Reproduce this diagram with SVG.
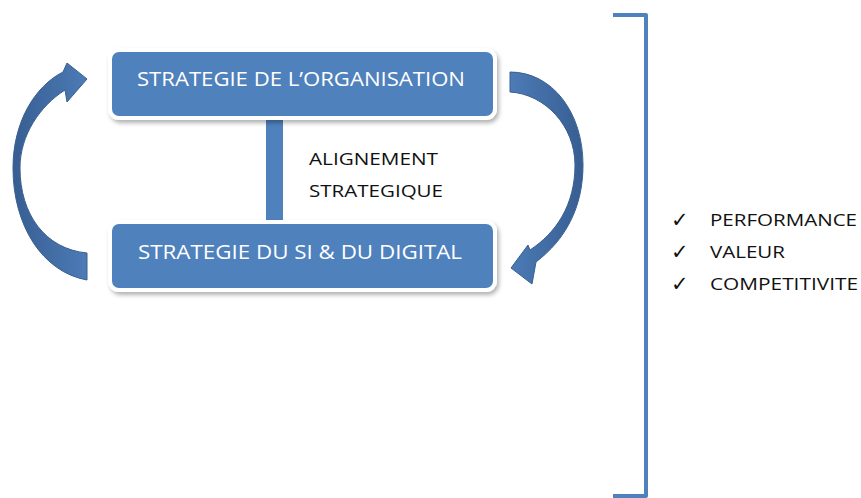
<svg xmlns="http://www.w3.org/2000/svg" width="861" height="498" viewBox="0 0 861 498">
  <style>
    .box { fill: #4f81bd; stroke: #ffffff; stroke-width: 4; }
    .boxtext { font-family: "Open Sans", "Liberation Sans", sans-serif; font-size: 19.5px; fill: #ffffff; }
    .label { font-family: "Open Sans", "Liberation Sans", sans-serif; font-size: 16.5px; fill: #111111; }
    .check { font-family: "DejaVu Sans", sans-serif; font-size: 21px; font-weight: bold; fill: #111111; }
    .arrow { stroke: #3a6090; stroke-width: 1; }
    .bracket { fill: none; stroke: #4f81bd; stroke-width: 4; stroke-linejoin: round; }
  </style>
  <defs>
    <filter id="shadow" x="-10%" y="-30%" width="120%" height="160%">
      <feDropShadow dx="2" dy="3" stdDeviation="2" flood-color="#000000" flood-opacity="0.3"/>
    </filter>
    <linearGradient id="gl" x1="0" y1="0" x2="1" y2="0">
      <stop offset="0" stop-color="#375e92"/>
      <stop offset="1" stop-color="#4c7bb6"/>
    </linearGradient>
    <linearGradient id="gr" x1="0" y1="0" x2="1" y2="0">
      <stop offset="0" stop-color="#4c7bb6"/>
      <stop offset="1" stop-color="#375e92"/>
    </linearGradient>
  </defs>
  <rect width="861" height="498" fill="#ffffff"/>

  <g id="connectors">
    <rect id="alignment-bar" x="266" y="114" width="17" height="112" fill="#4f81bd"/>
    <path id="arrow-left" class="arrow" fill="url(#gl)" d="M87,280 C42,272 13,225 13,168 C13,122 35,86 63,72 L67,63 L87,79 L67,102 L65,90 C40,106 20,135 20,168 C20,214 45,249 87,253 Z"/>
    <path id="arrow-right" class="arrow" fill="url(#gr)" d="M510,72 C552,72 583,112 583,165 C583,208 565,240 536,262 L532,284 L511,268 L528,245 L530,250 C556,233 575,205 575,165 C575,126 545,94 510,92 Z"/>
  </g>

  <g id="node-organisation">
    <rect class="box" x="110" y="50" width="385" height="68" rx="9" filter="url(#shadow)"/>
    <text class="boxtext" x="137" y="86" textLength="328" lengthAdjust="spacingAndGlyphs">STRATEGIE DE L’ORGANISATION</text>
  </g>

  <g id="node-si-digital">
    <rect class="box" x="110" y="222" width="385" height="68" rx="9" filter="url(#shadow)"/>
    <text class="boxtext" x="138" y="259" textLength="324" lengthAdjust="spacingAndGlyphs">STRATEGIE DU SI &amp; DU DIGITAL</text>
  </g>

  <g id="label-alignement">
    <text class="label" x="309" y="165" textLength="129" lengthAdjust="spacingAndGlyphs">ALIGNEMENT</text>
    <text class="label" x="309" y="197" textLength="134" lengthAdjust="spacingAndGlyphs">STRATEGIQUE</text>
  </g>

  <g id="bracket">
    <path class="bracket" d="M613,15 L646,15 L646,496 L613,496"/>
  </g>

  <g id="checklist">
    <text class="check" x="671" y="227">✓</text>
    <text class="label" x="710" y="226" textLength="147" lengthAdjust="spacingAndGlyphs">PERFORMANCE</text>
    <text class="check" x="671" y="259">✓</text>
    <text class="label" x="710" y="258" textLength="75" lengthAdjust="spacingAndGlyphs">VALEUR</text>
    <text class="check" x="671" y="291">✓</text>
    <text class="label" x="710" y="290" textLength="148" lengthAdjust="spacingAndGlyphs">COMPETITIVITE</text>
  </g>
</svg>
